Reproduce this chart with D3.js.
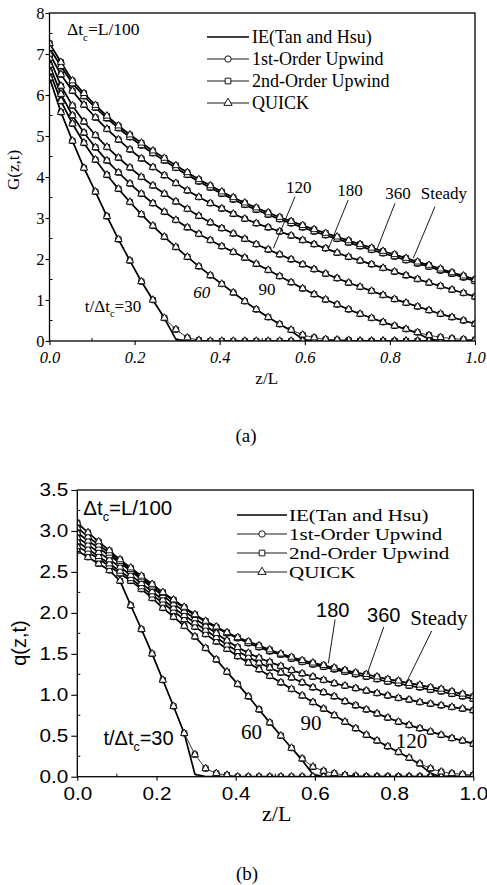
<!DOCTYPE html>
<html>
<head>
<meta charset="utf-8">
<script src="https://cdn.jsdelivr.net/npm/d3@7"></script>
<style>
  body { margin: 0; background: #fff; }
  svg { display: block; }
</style>
</head>
<body>
<svg id="fig" width="487" height="885"></svg>
<script>
// ---- data -------------------------------------------------------------
// axial nodes (z/L) where the schemes are sampled
const zNodes = [0.000,0.027,0.054,0.081,0.108,0.135,0.162,0.189,0.216,0.243,
                0.270,0.297,0.324,0.351,0.378,0.405,0.432,0.459,0.486,0.514,
                0.541,0.568,0.595,0.622,0.649,0.676,0.703,0.730,0.757,0.784,
                0.811,0.838,0.865,0.892,0.919,0.946,0.973,1.000];

const timeLabels = ["30","60","90","120","180","360","Steady"];
const schemeNames = ["IE(Tan and Hsu)","1st-Order Upwind","2nd-Order Upwind","QUICK"];

// (a) G(z,t) profiles
const G_30  = [6.42,5.58,4.88,4.22,3.64,3.04,2.48,1.96,1.45,1.00,0.56,0.28,0.08,0.02,0,0,0,0,0,0,0,0,0,0,0,0,0,0,0,0,0,0,0,0,0,0,0,0];
const G_60  = [6.57,5.85,5.30,4.83,4.42,4.05,3.71,3.39,3.09,2.81,2.54,2.29,2.05,1.82,1.60,1.39,1.18,0.97,0.77,0.58,0.41,0.27,0.15,0.08,0.04,0.03,0.02,0,0,0,0,0,0,0,0,0,0,0];
const G_90  = [6.73,6.02,5.50,5.08,4.72,4.40,4.11,3.84,3.59,3.36,3.15,2.95,2.77,2.61,2.46,2.31,2.17,2.03,1.88,1.73,1.58,1.43,1.28,1.14,1.01,0.89,0.77,0.66,0.56,0.46,0.37,0.29,0.21,0.14,0.09,0.06,0.04,0.03];
const G_120 = [6.90,6.22,5.74,5.35,5.02,4.73,4.47,4.23,4.00,3.79,3.59,3.40,3.22,3.05,2.89,2.75,2.62,2.49,2.36,2.23,2.11,1.99,1.87,1.75,1.64,1.53,1.42,1.32,1.22,1.12,1.02,0.93,0.84,0.75,0.66,0.58,0.50,0.42];
const G_180 = [7.00,6.50,6.10,5.76,5.45,5.17,4.91,4.67,4.45,4.24,4.04,3.85,3.67,3.51,3.36,3.23,3.10,2.98,2.87,2.77,2.67,2.57,2.46,2.36,2.26,2.15,2.05,1.96,1.87,1.78,1.69,1.60,1.51,1.42,1.34,1.25,1.17,1.08];
const G_360 = [7.14,6.70,6.28,5.97,5.69,5.43,5.19,4.97,4.77,4.58,4.40,4.22,4.05,3.89,3.74,3.59,3.45,3.32,3.20,3.08,2.97,2.87,2.77,2.67,2.58,2.49,2.40,2.31,2.22,2.14,2.06,1.97,1.89,1.81,1.72,1.64,1.55,1.46];
const G_ss  = [7.26,6.80,6.35,6.04,5.75,5.49,5.25,5.03,4.83,4.64,4.46,4.28,4.11,3.94,3.79,3.64,3.50,3.37,3.25,3.13,3.02,2.92,2.82,2.72,2.63,2.54,2.45,2.36,2.27,2.19,2.11,2.02,1.93,1.85,1.76,1.67,1.59,1.50];
// IE solution keeps a sharp front where it differs from the schemes
const G_30_ie = [6.42,5.58,4.88,4.22,3.64,3.04,2.48,1.96,1.45,1.00,0.56,0.04,0,0,0,0,0,0,0,0,0,0,0,0,0,0,0,0,0,0,0,0,0,0,0,0,0,0];
const G_60_ie = [6.57,5.85,5.30,4.83,4.42,4.05,3.71,3.39,3.09,2.81,2.54,2.29,2.05,1.82,1.60,1.39,1.18,0.97,0.77,0.58,0.41,0.25,0.04,0,0,0,0,0,0,0,0,0,0,0,0,0,0,0];
const G_90_ie = [6.73,6.02,5.50,5.08,4.72,4.40,4.11,3.84,3.59,3.36,3.15,2.95,2.77,2.61,2.46,2.31,2.17,2.03,1.88,1.73,1.58,1.43,1.28,1.14,1.01,0.89,0.77,0.66,0.56,0.46,0.37,0.29,0.19,0.05,0,0,0,0];

// (b) q(z,t) profiles
const q_30  = [2.76,2.68,2.60,2.52,2.39,2.09,1.80,1.50,1.18,0.86,0.53,0.27,0.10,0.04,0.02,0,0,0,0,0,0,0,0,0,0,0,0,0,0,0,0,0,0,0,0,0,0,0];
const q_60  = [2.81,2.74,2.66,2.57,2.48,2.39,2.29,2.18,2.06,1.95,1.84,1.71,1.57,1.43,1.28,1.13,0.98,0.82,0.66,0.50,0.35,0.22,0.12,0.07,0.04,0.02,0.01,0,0,0,0,0,0,0,0,0,0,0];
const q_90  = [2.87,2.78,2.69,2.60,2.51,2.42,2.32,2.22,2.12,2.02,1.92,1.83,1.74,1.65,1.56,1.47,1.39,1.31,1.23,1.15,1.07,0.99,0.91,0.83,0.75,0.67,0.59,0.51,0.44,0.37,0.30,0.23,0.16,0.10,0.06,0.04,0.03,0.02];
const q_120 = [2.92,2.83,2.74,2.65,2.56,2.46,2.36,2.26,2.16,2.06,1.97,1.88,1.79,1.70,1.61,1.53,1.46,1.39,1.33,1.27,1.21,1.15,1.09,1.03,0.98,0.92,0.87,0.82,0.77,0.72,0.67,0.63,0.59,0.55,0.51,0.47,0.44,0.40];
const q_180 = [2.98,2.88,2.79,2.70,2.61,2.51,2.41,2.31,2.21,2.11,2.02,1.93,1.84,1.75,1.66,1.58,1.51,1.45,1.40,1.35,1.30,1.26,1.22,1.18,1.14,1.11,1.08,1.05,1.02,0.99,0.96,0.94,0.91,0.89,0.87,0.85,0.83,0.81];
const q_360 = [3.04,2.93,2.83,2.73,2.63,2.53,2.43,2.33,2.24,2.15,2.06,1.97,1.89,1.82,1.75,1.69,1.63,1.58,1.53,1.49,1.44,1.40,1.37,1.34,1.31,1.28,1.25,1.22,1.19,1.16,1.14,1.11,1.09,1.06,1.04,1.01,0.98,0.95];
const q_ss  = [3.10,2.98,2.87,2.76,2.65,2.55,2.45,2.35,2.25,2.16,2.07,1.98,1.90,1.83,1.76,1.70,1.65,1.60,1.55,1.50,1.46,1.42,1.39,1.36,1.33,1.30,1.27,1.25,1.22,1.19,1.17,1.14,1.12,1.09,1.07,1.04,1.01,0.98];
const q_30_ie = [2.76,2.68,2.60,2.52,2.39,2.09,1.80,1.50,1.18,0.86,0.53,0.03,0,0,0,0,0,0,0,0,0,0,0,0,0,0,0,0,0,0,0,0,0,0,0,0,0,0];
const q_60_ie = [2.81,2.74,2.66,2.57,2.48,2.39,2.29,2.18,2.06,1.95,1.84,1.71,1.57,1.43,1.28,1.13,0.98,0.82,0.66,0.50,0.35,0.20,0.03,0,0,0,0,0,0,0,0,0,0,0,0,0,0,0];
const q_90_ie = [2.87,2.78,2.69,2.60,2.51,2.42,2.32,2.22,2.12,2.02,1.92,1.83,1.74,1.65,1.56,1.47,1.39,1.31,1.23,1.15,1.07,0.99,0.91,0.83,0.75,0.67,0.59,0.51,0.44,0.37,0.30,0.23,0.15,0.04,0,0,0,0];

const xTicks = [0, 0.2, 0.4, 0.6, 0.8, 1.0];
const gTicks = [0, 1, 2, 3, 4, 5, 6, 7, 8];
const qTicks = [0, 0.5, 1.0, 1.5, 2.0, 2.5, 3.0, 3.5];

// ---- drawing ----------------------------------------------------------
const svg = d3.select("#fig");
const SERIF = "'Liberation Serif','Times New Roman',serif";
const SANS = "'Liberation Sans',Arial,sans-serif";

const panels = [
  {
    id: "a",
    box: { left: 49.5, right: 475, top: 13, bottom: 341 },
    yMax: 8, yTicks: gTicks, yMinor: d3.range(0.5, 8, 1), yFmt: d3.format("d"),
    curves: [G_30, G_60, G_90, G_120, G_180, G_360, G_ss],
    ie: [G_30_ie, G_60_ie, G_90_ie, G_120, G_180, G_360, G_ss],
    tickFont: SERIF, tickSize: 16.5, tickStretch: 1, xItalic: true, xPad: 6, yPad: 1, yTick: 4,
    yTitle: "G(z,t)", yTitleFont: SERIF, yTitleSize: 17, yTitlePos: [13, 170],
    xTitleSize: 17, xTitlePos: [266.7, 384],
    caption: "(a)", captionPos: [246, 442],
    note: { font: SERIF, size: 17.5, z: 0.041, v: 7.46 },
    legend: { x0: 207, x1: 249, mx: 228, tx: 252, ys: [37, 59, 81, 103], size: 18, stretch: 1 },
    labels: [
      { t: "120", z: 0.586, v: 3.61, font: SERIF, size: 17 },
      { t: "180", z: 0.706, v: 3.54, font: SERIF, size: 17 },
      { t: "360", z: 0.819, v: 3.46, font: SERIF, size: 17 },
      { t: "Steady", z: 0.927, v: 3.46, font: SERIF, size: 17 },
      { t: "60", z: 0.358, v: 1.05, font: SERIF, size: 17, italic: true },
      { t: "90", z: 0.511, v: 1.12, font: SERIF, size: 17 }
    ],
    first: { z: 0.083, v: 0.71, font: SERIF, size: 17 },
    leaders: [
      [[0.577, 3.52], [0.526, 2.26]],
      [[0.702, 3.44], [0.655, 2.24]],
      [[0.812, 3.36], [0.769, 2.22]],
      [[0.906, 3.28], [0.855, 2.02]]
    ]
  },
  {
    id: "b",
    box: { left: 77.3, right: 473.3, top: 490, bottom: 776.7 },
    yMax: 3.5, yTicks: qTicks, yMinor: d3.range(0.25, 3.5, 0.5), yFmt: d3.format(".1f"),
    curves: [q_30, q_60, q_90, q_120, q_180, q_360, q_ss],
    ie: [q_30_ie, q_60_ie, q_90_ie, q_120, q_180, q_360, q_ss],
    tickFont: SANS, tickSize: 18.5, tickStretch: 1.12, xItalic: false, xPad: 6, yPad: 3, yTick: 6,
    yTitle: "q(z,t)", yTitleFont: SANS, yTitleSize: 20, yTitlePos: [19, 643],
    xTitleSize: 22, xTitlePos: [276.7, 821],
    caption: "(b)", captionPos: [247, 880],
    note: { font: SANS, size: 20.5, z: 0.015, v: 3.20 },
    legend: { x0: 237, x1: 287, mx: 262, tx: 289, ys: [515, 534, 553, 572], size: 17.5, stretch: 1.2 },
    labels: [
      { t: "180", z: 0.645, v: 1.95, font: SANS, size: 20 },
      { t: "360", z: 0.774, v: 1.89, font: SANS, size: 20 },
      { t: "Steady", z: 0.913, v: 1.85, font: SERIF, size: 21 },
      { t: "60", z: 0.440, v: 0.46, font: SERIF, size: 21 },
      { t: "90", z: 0.590, v: 0.57, font: SERIF, size: 21 },
      { t: "120", z: 0.844, v: 0.35, font: SERIF, size: 21 }
    ],
    first: { z: 0.066, v: 0.39, font: SANS, size: 20 },
    leaders: [
      [[0.651, 1.92], [0.634, 1.385]],
      [[0.774, 1.83], [0.731, 1.24]],
      [[0.895, 1.78], [0.832, 1.16]]
    ]
  }
];

const markerShapes = [null, d3.symbolCircle, d3.symbolSquare, d3.symbolTriangle];
const markerSizes = [0, 26, 26, 24];

function drawMarker(g, shape, size, x, y) {
  g.append("path")
    .attr("transform", `translate(${x},${y})`)
    .attr("d", d3.symbol().type(shape).size(size)())
    .attr("fill", "#fff").attr("stroke", "#000").attr("stroke-width", 0.9);
}

function noteText(g, x, y, font, size, before, after) {
  const t = g.append("text").attr("x", x).attr("y", y)
    .attr("font-family", font).attr("font-size", size).attr("fill", "#000");
  t.append("tspan").text(before);
  t.append("tspan").text("c").attr("font-size", size * 0.62).attr("dy", size * 0.32);
  t.append("tspan").text(after).attr("dy", -size * 0.32);
  return t;
}

panels.forEach(p => {
  const b = p.box;
  const x = d3.scaleLinear().domain([0, 1]).range([b.left, b.right]);
  const y = d3.scaleLinear().domain([0, p.yMax]).range([b.bottom, b.top]);
  const g = svg.append("g").attr("class", "panel-" + p.id);

  const clipId = "clip-" + p.id;
  svg.append("defs").append("clipPath").attr("id", clipId)
    .append("rect").attr("x", b.left).attr("y", b.top)
    .attr("width", b.right - b.left).attr("height", b.bottom - b.top);

  // scheme lines beneath, IE line heavier
  const line = d3.line().x((d, i) => x(zNodes[i])).y(d => y(d));
  const plot = g.append("g").attr("clip-path", `url(#${clipId})`);
  p.curves.forEach(c => {
    plot.append("path").attr("d", line(c)).attr("fill", "none")
      .attr("stroke", "#000").attr("stroke-width", 0.8);
  });
  p.ie.forEach(c => {
    plot.append("path").attr("d", line(c)).attr("fill", "none")
      .attr("stroke", "#000").attr("stroke-width", 1.7).attr("stroke-linejoin", "round");
  });
  // scheme markers: circles, squares, then triangles on top
  [1, 2, 3].forEach(s => {
    p.curves.forEach(c => {
      c.forEach((v, i) => drawMarker(plot, markerShapes[s], markerSizes[s], x(zNodes[i]), y(v)));
    });
  });

  // axes
  const xAxis = d3.axisBottom(x).tickValues(xTicks).tickFormat(d3.format(".1f"))
    .tickSize(4).tickPadding(p.xPad);
  const yAxis = d3.axisLeft(y).tickValues(p.yTicks).tickFormat(p.yFmt)
    .tickSize(p.yTick).tickPadding(p.yPad);
  const gx = g.append("g").attr("transform", `translate(0,${b.bottom})`).call(xAxis);
  const gy = g.append("g").attr("transform", `translate(${b.left},0)`).call(yAxis);
  [gx, gy].forEach(a => {
    a.select(".domain").remove();
    a.selectAll("line").attr("stroke", "#000").attr("stroke-width", 1.1);
    a.selectAll("text").attr("font-family", p.tickFont).attr("font-size", p.tickSize).attr("fill", "#000");
  });
  if (p.xItalic) gx.selectAll("text").attr("font-style", "italic");
  if (p.tickStretch !== 1) {
    const k = p.tickStretch;
    gx.selectAll("text").attr("transform", `scale(${k},1)`);
    gy.selectAll("text").attr("x", -(p.yTick + p.yPad) / k).attr("transform", `scale(${k},1)`);
  }

  // minor ticks pointing inward
  const minorX = d3.range(0.1, 1, 0.2);
  g.append("g").selectAll("line").data(minorX).join("line")
    .attr("x1", d => x(d)).attr("x2", d => x(d))
    .attr("y1", b.bottom).attr("y2", b.bottom - 3)
    .attr("stroke", "#000").attr("stroke-width", 1);
  g.append("g").selectAll("line").data(p.yMinor).join("line")
    .attr("x1", b.left).attr("x2", b.left + 3)
    .attr("y1", d => y(d)).attr("y2", d => y(d))
    .attr("stroke", "#000").attr("stroke-width", 1);

  // frame
  g.append("rect").attr("x", b.left).attr("y", b.top)
    .attr("width", b.right - b.left).attr("height", b.bottom - b.top)
    .attr("fill", "none").attr("stroke", "#000").attr("stroke-width", 1.3);

  // axis titles and caption
  g.append("text").attr("x", p.xTitlePos[0]).attr("y", p.xTitlePos[1])
    .attr("text-anchor", "middle").attr("font-family", SERIF)
    .attr("font-size", p.xTitleSize).text("z/L");
  g.append("text")
    .attr("transform", `translate(${p.yTitlePos[0]},${p.yTitlePos[1]}) rotate(-90)`)
    .attr("text-anchor", "middle").attr("dominant-baseline", "central")
    .attr("font-family", p.yTitleFont).attr("font-size", p.yTitleSize).text(p.yTitle);
  g.append("text").attr("x", p.captionPos[0]).attr("y", p.captionPos[1])
    .attr("text-anchor", "middle").attr("font-family", SERIF)
    .attr("font-size", 19).text(p.caption);

  // time-step note
  noteText(g, x(p.note.z), y(p.note.v), p.note.font, p.note.size, "\u0394t", "=L/100");

  // curve labels and leaders
  p.labels.forEach(l => {
    g.append("text").attr("x", x(l.z)).attr("y", y(l.v))
      .attr("text-anchor", "middle").attr("font-family", l.font)
      .attr("font-size", l.size).attr("font-style", l.italic ? "italic" : "normal")
      .text(l.t);
  });
  noteText(g, x(p.first.z), y(p.first.v), p.first.font, p.first.size,
           "t/\u0394t", "=" + timeLabels[0]);
  p.leaders.forEach(s => {
    g.append("line")
      .attr("x1", x(s[0][0])).attr("y1", y(s[0][1]))
      .attr("x2", x(s[1][0])).attr("y2", y(s[1][1]))
      .attr("stroke", "#000").attr("stroke-width", 0.9);
  });

  // legend
  const L = p.legend;
  schemeNames.forEach((name, i) => {
    const ly = L.ys[i];
    g.append("line").attr("x1", L.x0).attr("x2", L.x1).attr("y1", ly).attr("y2", ly)
      .attr("stroke", "#000").attr("stroke-width", i === 0 ? 1.6 : 0.9);
    if (markerShapes[i]) drawMarker(g, markerShapes[i], markerSizes[i] + 6, L.mx, ly);
    g.append("text")
      .attr("transform", `translate(${L.tx},${ly}) scale(${L.stretch},1)`)
      .attr("dominant-baseline", "central").attr("font-family", SERIF)
      .attr("font-size", L.size).text(name);
  });
});
</script>
</body>
</html>
